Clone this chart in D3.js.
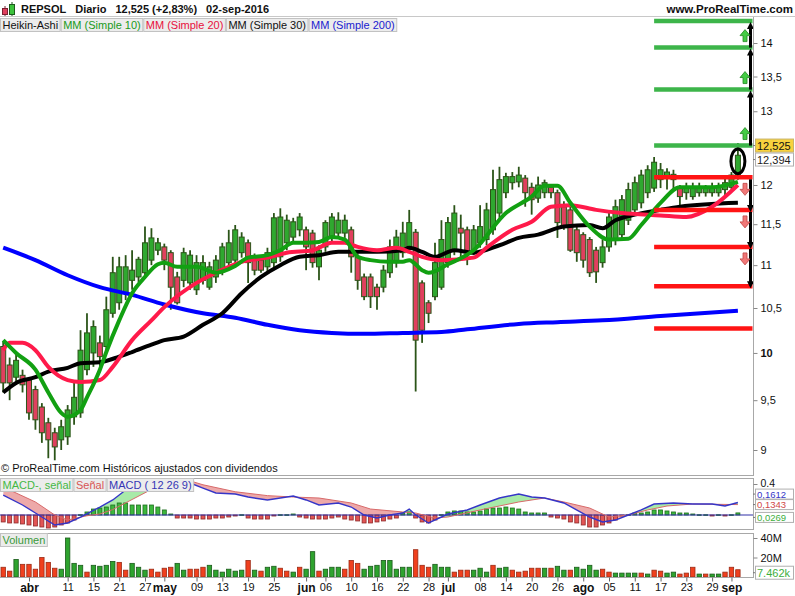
<!DOCTYPE html>
<html><head><meta charset="utf-8">
<script src="https://cdn.jsdelivr.net/npm/d3@7/dist/d3.min.js"></script>
<style>
html,body{margin:0;padding:0;background:#fff;}
svg{display:block;}
text{font-family:"Liberation Sans",Arial,sans-serif;}
</style></head><body>
<svg id="chart" width="795" height="596"></svg>
<script>
// ---------------- DATA ----------------
const dates = ["03-24","03-29","03-30","03-31",
"04-01","04-04","04-05","04-06","04-07","04-08","04-11","04-12","04-13","04-14","04-15","04-18","04-19","04-20","04-21","04-22","04-25","04-26","04-27","04-28","04-29",
"05-02","05-03","05-04","05-05","05-06","05-09","05-10","05-11","05-12","05-13","05-16","05-17","05-18","05-19","05-20","05-23","05-24","05-25","05-26","05-27","05-30","05-31",
"06-01","06-02","06-03","06-06","06-07","06-08","06-09","06-10","06-13","06-14","06-15","06-16","06-17","06-20","06-21","06-22","06-23","06-24","06-27","06-28","06-29","06-30",
"07-01","07-04","07-05","07-06","07-07","07-08","07-11","07-12","07-13","07-14","07-15","07-18","07-19","07-20","07-21","07-22","07-25","07-26","07-27","07-28","07-29",
"08-01","08-02","08-03","08-04","08-05","08-08","08-09","08-10","08-11","08-12","08-15","08-16","08-17","08-18","08-19","08-22","08-23","08-24","08-25","08-26","08-29","08-30","08-31",
"09-01","09-02"];

// Heikin-Ashi candles
const haOpen = [10.07,9.87,9.74,9.76,9.71,9.61,9.43,9.27,9.17,9.10,
9.13,9.33,9.37,9.82,10.00,10.11,10.07,10.44,10.56,10.67,
10.82,10.86,10.91,11.06,11.18,11.22,11.15,10.86,10.82,10.79,
10.71,10.82,10.74,10.86,10.94,11.03,11.06,11.15,11.27,11.10,
11.06,10.98,11.03,11.10,11.27,11.34,11.43,11.43,11.39,10.98,
11.22,11.34,11.39,11.39,11.43,11.10,10.86,10.86,10.74,10.74,
10.91,11.03,11.15,11.22,11.40,10.79,10.56,10.63,10.74,11.03,
11.18,11.45,11.43,11.18,11.27,11.31,11.43,11.64,11.90,12.03,
12.04,12.09,11.97,11.83,11.90,11.97,11.90,11.72,11.68,11.43,
11.37,11.31,11.18,11.03,11.22,11.31,11.37,11.55,11.68,11.77,
11.90,11.96,12.07,12.09,12.07,11.96,11.90,11.85,11.90,11.90,
11.90,11.90,11.94,11.97,12.11];
const haHigh = [10.12,9.95,9.98,9.82,9.74,9.65,9.47,9.32,9.22,9.30,
9.45,9.68,10.25,10.44,10.36,10.19,10.63,11.10,11.10,11.12,
11.18,11.10,11.47,11.45,11.33,11.26,11.18,10.92,11.21,11.18,
11.12,11.12,11.04,11.12,11.27,11.43,11.49,11.40,11.31,11.14,
11.10,11.21,11.64,11.70,11.62,11.58,11.64,11.47,11.43,11.24,
11.55,11.64,11.65,11.62,11.47,11.14,10.90,10.90,10.78,11.00,
11.31,11.43,11.53,11.68,11.44,10.82,10.59,11.27,11.55,11.59,
11.74,11.62,11.47,11.49,11.74,11.77,12.20,12.24,12.16,12.17,
12.24,12.13,12.03,12.11,12.07,12.01,11.94,11.79,11.72,11.47,
11.40,11.34,11.22,11.31,11.68,11.81,11.87,12.03,12.11,12.20,
12.26,12.37,12.29,12.22,12.20,12.00,12.03,12.03,12.03,12.00,
12.03,12.03,12.09,12.17,12.56];
const haLow = [9.58,9.50,9.69,9.58,9.30,9.20,9.07,8.92,8.90,9.00,
9.05,9.25,9.32,9.76,9.85,9.86,10.01,10.39,10.48,10.59,
10.71,10.80,10.85,11.00,11.12,10.94,10.48,10.54,10.74,10.71,
10.65,10.77,10.71,10.79,10.88,10.97,11.00,11.09,10.79,10.88,
10.91,10.92,10.97,11.04,11.18,11.28,11.35,10.94,10.97,10.82,
11.16,11.28,11.33,11.33,10.91,10.71,10.59,10.50,10.48,10.68,
10.85,10.97,11.09,11.16,9.59,10.11,10.33,10.59,10.71,10.97,
11.12,11.06,11.00,11.12,11.21,11.24,11.37,11.58,11.83,11.94,
11.97,11.72,11.62,11.77,11.83,11.83,11.33,11.43,11.16,11.04,
10.97,10.86,10.79,10.97,11.16,11.24,11.31,11.49,11.62,11.70,
11.83,11.91,11.96,11.94,11.94,11.74,11.81,11.81,11.85,11.85,
11.85,11.85,11.87,11.94,12.07];
const haClose = [9.68,9.68,9.92,9.66,9.37,9.30,9.17,9.10,9.03,9.23,
9.40,9.53,10.03,10.22,10.29,9.96,10.48,10.91,10.98,10.98,
10.94,11.07,11.27,11.33,11.27,11.06,10.74,10.56,11.15,11.12,
11.03,11.03,10.98,11.06,11.22,11.27,11.43,11.34,11.03,10.94,
10.94,11.15,11.58,11.59,11.55,11.53,11.59,11.22,11.03,11.18,
11.52,11.59,11.55,11.55,11.10,10.82,10.63,10.63,10.63,10.94,
11.22,11.34,11.39,11.52,10.14,10.25,10.44,11.03,11.31,11.52,
11.64,11.39,11.15,11.43,11.47,11.68,11.94,12.07,12.11,12.11,
12.13,11.90,11.81,12.00,12.03,11.90,11.52,11.47,11.18,11.15,
11.06,10.91,10.92,11.22,11.59,11.72,11.81,11.94,12.03,12.13,
12.20,12.30,12.20,12.17,12.14,11.85,11.97,11.97,11.97,11.96,
11.97,11.97,12.03,12.13,12.394];

// Moving averages: [bar index, value]
const ma10 = [[0,10.14],[2,10.00],[5,9.82],[7,9.58],[9,9.37],[10,9.33],[12,9.40],[13,9.53],[15,9.82],[16,10.01],[18,10.36],[20,10.67],[22,10.86],[24,11.01],[25,11.03],[27,10.98],[30,10.98],[33,10.91],[36,10.99],[38,11.09],[41,11.12],[43,11.18],[45,11.27],[47,11.27],[49,11.28],[51,11.34],[53,11.31],[55,11.10],[57,11.06],[60,11.04],[62,11.04],[63,11.06],[65,10.94],[66,10.91],[69,11.01],[73,11.18],[78,11.64],[82,11.85],[84,11.99],[86,11.99],[88,11.77],[91,11.47],[94,11.31],[97,11.32],[99,11.49],[102,11.77],[105,11.97],[110,11.97],[114,12.04]];
const ma20 = [[0,10.03],[1,10.11],[3,10.11],[5,10.03],[7,9.85],[10,9.71],[12,9.69],[15,9.71],[17,9.85],[20,10.14],[23,10.36],[25,10.51],[30,10.79],[33,10.91],[37,11.04],[41,11.09],[44,11.15],[48,11.18],[51,11.27],[53,11.27],[55,11.22],[58,11.18],[61,11.21],[63,11.16],[65,11.10],[68,11.06],[73,11.09],[75,11.21],[79,11.43],[82,11.53],[85,11.72],[88,11.74],[92,11.68],[96,11.64],[102,11.61],[106,11.59],[110,11.72],[114,12.00]];
const ma30 = [[0,9.58],[2,9.68],[5,9.74],[7,9.80],[10,9.84],[12,9.89],[15,9.90],[18,9.96],[20,10.01],[23,10.09],[25,10.14],[28,10.18],[31,10.31],[34,10.44],[37,10.67],[40,10.86],[43,11.00],[46,11.10],[49,11.12],[52,11.16],[55,11.16],[58,11.16],[62,11.18],[63,11.21],[65,11.16],[67,11.10],[70,11.18],[73,11.15],[77,11.24],[80,11.33],[83,11.37],[87,11.47],[91,11.49],[93,11.45],[95,11.55],[98,11.62],[102,11.68],[105,11.72],[114,11.77]];
const ma200 = [[0,11.21],[5,11.06],[10,10.88],[15,10.74],[20,10.65],[25,10.54],[31,10.44],[36,10.39],[41,10.31],[46,10.25],[51,10.22],[56,10.21],[62,10.22],[68,10.23],[72,10.26],[80,10.32],[86,10.34],[93,10.36],[102,10.41],[114,10.47]];

// Target levels drawn from 18-aug
const levelStartIdx = 101;
const upLevels = [12.525, 13.31, 13.93, 14.34];
const downLevels = [12.10, 11.68, 11.22, 10.75, 10.27];
const downArrowCount = 3;

// MACD (12 26 9): [bar index, value]
const macdLine = [[0,0.258],[3,0.129],[5,0.026],[8,-0.129],[10,-0.103],[12,-0.026],[15,0.103],[17,0.194],[19,0.323],[20,0.413],[23,0.477],[26,0.477],[29,0.413],[31,0.348],[33,0.284],[36,0.271],[38,0.232],[41,0.194],[45,0.245],[47,0.194],[49,0.129],[52,0.155],[54,0.103],[56,0],[58,-0.039],[60,0],[62,0.026],[63,0.077],[64,0],[66,-0.103],[69,0.013],[72,0.065],[74,0.129],[77,0.219],[80,0.271],[82,0.232],[84,0.219],[87,0.155],[91,-0.026],[93,-0.090],[95,-0.065],[97,0],[99,0.065],[101,0.142],[104,0.155],[107,0.142],[110,0.142],[112,0.116],[114,0.1612]];
const signalLine = [[0,0.361],[5,0.168],[8,0.0],[10,-0.065],[13,-0.01],[15,0.013],[17,0.07],[20,0.2],[23,0.33],[26,0.44],[29,0.44],[31,0.39],[36,0.30],[41,0.25],[45,0.232],[49,0.219],[54,0.155],[57,0.077],[62,0.039],[64,0.026],[67,-0.039],[69,-0.026],[74,0.065],[80,0.168],[84,0.219],[87,0.168],[91,0.090],[94,-0.026],[97,0],[100,0.065],[103,0.116],[107,0.142],[114,0.1343]];
const macdHist = [-0.090,-0.103,-0.103,-0.116,-0.129,-0.142,-0.155,-0.168,-0.155,-0.129,
-0.103,-0.065,0.004,0.039,0.077,0.090,0.103,0.129,0.155,0.155,
0.129,0.129,0.129,0.129,0.103,0.065,0.013,-0.039,-0.039,-0.039,
-0.052,-0.052,-0.052,-0.039,-0.039,-0.026,-0.013,0.004,-0.039,-0.052,
-0.052,-0.052,-0.013,0.004,0.004,0.013,-0.026,-0.039,-0.052,-0.052,
-0.052,-0.039,-0.026,-0.052,-0.065,-0.077,-0.103,-0.103,-0.090,-0.077,
-0.052,-0.039,0.026,0.039,-0.039,-0.090,-0.103,-0.065,0.004,0.039,
0.052,0.052,0.039,0.039,0.052,0.077,0.090,0.090,0.103,0.090,
0.077,0.039,0.026,0.026,0.026,-0.026,-0.039,-0.052,-0.090,-0.103,
-0.129,-0.155,-0.155,-0.129,-0.103,-0.065,-0.013,0.004,0.026,0.026,
0.039,0.065,0.065,0.052,0.039,0.026,0.026,0.013,0.004,0.004,
-0.013,0.004,-0.013,0.004,0.0269];

// Volume (millions) and direction (1 = up / green)
const volume = [10,6,18,13,13,8,20,15,9,8,
40,14,12,5,12,11,12,16,15,7,
14,10,7,8,5,9,10,14,7,8,
8,10,12,7,5,8,6,7,17,7,
6,10,11,9,6,5,10,8,26,6,
8,10,10,8,17,14,8,11,12,17,
17,8,10,10,28,12,10,13,10,10,
5,7,7,7,9,5,12,9,10,7,
5,6,9,9,9,9,11,7,7,10,
8,12,7,8,5,4,4,4,4,4,
3,7,6,4,5,3,4,10,3,3,
3,3,5,10,7.462];
const volumeUp = "0010000001111011110011100001100011111101011001011011100011111111000111000111011000001011011110011110100110001011";

const tickDates = ["04-01","04-11","04-15","04-21","04-27","05-02","05-09","05-13","05-19","05-25","06-01","06-06","06-10","06-16","06-22","06-28","07-01","07-08","07-14","07-20","07-26","08-01","08-05","08-11","08-17","08-23","08-29","09-01"];
const tickLabels = ["abr","11","15","21","27","may","09","13","19","25","jun","06","10","16","22","28","jul","08","14","20","26","ago","05","11","17","23","29","sep"];
const priceTicks = [14,13.5,13,12,11.5,11,10.5,10,9.5,9];
const volumeTicks = [20,40];
const macdTicks = [0.4];

const lastPrice = 12.525, lastChange = 2.83, lastDate = "02-sep-2016";

// ---------------- LAYOUT ----------------
const svg = d3.select("#chart");
const PR = 753;
const mainP = {top:17, bottom:475};
const macdP = {top:478, bottom:529};
const volP = {top:533, bottom:577};
const FONT = '"Liberation Sans",Arial,sans-serif';

const x = d3.scalePoint().domain(dates).range([3.2, 737.9]);
const y = d3.scaleLog().domain([9,14]).range([450,43]);
const ym = d3.scaleLinear().domain([0,0.4]).range([515,484]);
const yv = d3.scaleLinear().domain([0,40]).range([577,538]);
const xi = i => x(dates[i]);
const comma = (v,d) => v.toFixed(d).replace(".",",");

const defs = svg.append("defs");
function clip(id, x0, y0, w, h){ defs.append("clipPath").attr("id",id).append("rect").attr("x",x0).attr("y",y0).attr("width",w).attr("height",h); }
clip("clipMain",0,mainP.top,PR,mainP.bottom-mainP.top);
clip("clipMacd",0,macdP.top,PR,macdP.bottom-macdP.top);
clip("clipVol",0,volP.top,PR,volP.bottom-volP.top);

svg.append("rect").attr("width",795).attr("height",596).attr("fill","#fff");

// ---------------- HEADER ----------------
svg.append("line").attr("x1",0).attr("x2",795).attr("y1",16.5).attr("y2",16.5).attr("stroke","#c8c8c8");
// small icon
svg.append("line").attr("x1",5).attr("x2",5).attr("y1",6).attr("y2",16).attr("stroke","#7a2030");
svg.append("rect").attr("x",2.5).attr("y",8.5).attr("width",5).attr("height",6).attr("fill","#e0405e").attr("stroke","#7a2030");
svg.append("line").attr("x1",12).attr("x2",12).attr("y1",2).attr("y2",16).attr("stroke","#1d5a1d");
svg.append("rect").attr("x",9.5).attr("y",4.5).attr("width",5).attr("height",10).attr("fill","#3cc33c").attr("stroke","#1d5a1d");

const titleParts = ["REPSOL","Diario", comma(lastPrice,3)+" (+"+comma(lastChange,2)+"%)", lastDate];
let tx = 21;
titleParts.forEach(p=>{
  const t = svg.append("text").attr("x",tx).attr("y",13).attr("font-size",11).attr("font-weight","bold").attr("fill","#111").text(p);
  tx += t.node().getComputedTextLength()+9;
});
svg.append("text").attr("x",793).attr("y",13).attr("text-anchor","end").attr("font-size",11.5).attr("font-weight","bold").attr("fill","#111").text("www.ProRealTime.com");

// ---------------- MAIN PANEL ----------------
const gMain = svg.append("g").attr("clip-path","url(#clipMain)");
const candles = dates.map((d,i)=>({d, o:haOpen[i], h:haHigh[i], l:haLow[i], c:haClose[i]}));
gMain.append("g").selectAll("line").data(candles).join("line")
  .attr("x1",d=>x(d.d)).attr("x2",d=>x(d.d)).attr("y1",d=>y(d.h)).attr("y2",d=>y(d.l))
  .attr("stroke","#2b5418").attr("stroke-width",1.8);
gMain.append("g").selectAll("rect").data(candles).join("rect")
  .attr("x",d=>x(d.d)-2.5).attr("width",5)
  .attr("y",d=>y(Math.max(d.o,d.c))).attr("height",d=>Math.max(1,Math.abs(y(d.o)-y(d.c))))
  .attr("fill",d=>d.c>=d.o?"#2fa82f":"#e0405e").attr("stroke","#2b5418").attr("stroke-width",1);

const maLine = d3.line().x(d=>xi(d[0])).y(d=>y(d[1])).curve(d3.curveMonotoneX);
[[ma200,"#0000ff"],[ma30,"#000000"],[ma20,"#ff1a4a"],[ma10,"#12a012"]].forEach(([s,c])=>{
  gMain.append("path").attr("d",maLine(s)).attr("fill","none").attr("stroke",c).attr("stroke-width",4).attr("stroke-linejoin","round");
});

// levels
const lvX0 = xi(levelStartIdx), lvX1 = PR-0.5;
upLevels.forEach(v=>gMain.append("line").attr("x1",lvX0).attr("x2",lvX1).attr("y1",y(v)).attr("y2",y(v)).attr("stroke","#3db54a").attr("stroke-width",4.5));
downLevels.forEach(v=>gMain.append("line").attr("x1",lvX0).attr("x2",lvX1).attr("y1",y(v)).attr("y2",y(v)).attr("stroke","#ff1414").attr("stroke-width",4.5));

function vArrow(xc, y0, y1){
  const dir = Math.sign(y1-y0);
  gMain.append("line").attr("x1",xc).attr("x2",xc).attr("y1",y0).attr("y2",y1-dir*6).attr("stroke","#000").attr("stroke-width",3);
  gMain.append("path").attr("d",`M${xc-3.5},${y1-dir*7}L${xc+3.5},${y1-dir*7}L${xc},${y1}Z`).attr("fill","#000");
}
function blockArrow(cx, cy, up, fill, stroke){
  const s = up?1:-1;
  const d = `M${cx-5},${cy}L${cx},${cy-6*s}L${cx+5},${cy}L${cx+2},${cy}L${cx+2},${cy+6*s}L${cx-2},${cy+6*s}L${cx-2},${cy}Z`;
  gMain.append("path").attr("d",d).attr("fill",fill).attr("stroke",stroke).attr("stroke-width",0.8);
}
for(let k=0;k<upLevels.length-1;k++){
  vArrow(750.5, y(upLevels[k]), y(upLevels[k+1])+1);
  blockArrow(745, y(upLevels[k])-12, true, "#44cc44", "#228822");
}
for(let k=0;k<downArrowCount;k++){
  vArrow(750.5, y(downLevels[k])+2, y(downLevels[k+1])+2);
  blockArrow(745, y(downLevels[k])+12, false, "#f07878", "#c04848");
}
// ellipse around last candle
const lastI = dates.length-1;
gMain.append("ellipse").attr("cx",xi(lastI)).attr("cy",(y(haHigh[lastI])+y(haLow[lastI]))/2)
  .attr("rx",7).attr("ry",(y(haLow[lastI])-y(haHigh[lastI]))/2-6)
  .attr("fill","none").attr("stroke","#000").attr("stroke-width",3);

// borders
function panelBorder(p){
  svg.append("line").attr("x1",0).attr("x2",PR).attr("y1",p.bottom+0.5).attr("y2",p.bottom+0.5).attr("stroke","#a8a8a8");
  svg.append("line").attr("x1",PR+0.5).attr("x2",PR+0.5).attr("y1",p.top).attr("y2",p.bottom+1).attr("stroke","#a8a8a8");
}
panelBorder(mainP);
svg.append("line").attr("x1",0).attr("x2",PR).attr("y1",macdP.top+0.5).attr("y2",macdP.top+0.5).attr("stroke","#a8a8a8");
panelBorder(macdP);
svg.append("line").attr("x1",0).attr("x2",PR).attr("y1",volP.top+0.5).attr("y2",volP.top+0.5).attr("stroke","#a8a8a8");
panelBorder(volP);

// price axis
const axP = svg.append("g").attr("transform",`translate(${PR+0.5},0)`)
  .call(d3.axisRight(y).tickValues(priceTicks).tickSize(4).tickPadding(3)
    .tickFormat(d=>Number.isInteger(d)?String(d):comma(d,1)));
axP.select(".domain").remove();
axP.selectAll("line").attr("stroke","#888");
axP.selectAll("text").attr("font-size",11).attr("font-family",FONT).attr("fill","#111")
  .attr("font-weight",d=>d===10?"bold":"normal");

// value labels on the right axis
function valueBox(cy, label, fill, color, stroke, h, fs){
  h = h || 13; fs = fs || 11;
  svg.append("line").attr("x1",PR).attr("x2",PR+3).attr("y1",cy).attr("y2",cy).attr("stroke","#777");
  svg.append("rect").attr("x",755.5).attr("y",cy-h/2).attr("width",38).attr("height",h).attr("fill",fill).attr("stroke",stroke);
  svg.append("text").attr("x",757).attr("y",cy+fs*0.36).attr("font-size",fs).attr("fill",color).text(label);
}
const yClose = y(lastPrice);
valueBox(yClose, comma(lastPrice,3), "#f7d23e", "#111", "#c9b46a");
valueBox(Math.max(y(haClose[lastI]), yClose+14), comma(haClose[lastI],3), "#fff", "#222", "#b0b0b0");

// legend rows
function legendRow(items, x0, yTop, h){
  let cx = x0;
  items.forEach(it=>{
    const r = svg.append("rect").attr("x",cx).attr("y",yTop).attr("height",h).attr("fill","#ececec").attr("stroke","#c2c2c2");
    const t = svg.append("text").attr("x",cx+2).attr("y",yTop+h-2.5).attr("font-size",11).attr("fill",it.color).text(it.text);
    const w = t.node().getComputedTextLength()+4;
    r.attr("width",w);
    cx += w+1;
  });
}
legendRow([{text:"Heikin-Ashi",color:"#111"},{text:"MM (Simple 10)",color:"#1a9a1a"},{text:"MM (Simple 20)",color:"#e8103c"},{text:"MM (Simple 30)",color:"#111"},{text:"MM (Simple 200)",color:"#1a1ad0"}],0.5,18.5,13);

svg.append("text").attr("x",1).attr("y",472).attr("font-size",11).attr("fill","#111").text("© ProRealTime.com  Históricos ajustados con dividendos");

// ---------------- MACD PANEL ----------------
const gM = svg.append("g").attr("clip-path","url(#clipMacd)");
const aBelow = d3.area().x(d=>xi(d[0])).y0(macdP.bottom).y1(d=>ym(d[1]));
const aAbove = d3.area().x(d=>xi(d[0])).y0(macdP.top).y1(d=>ym(d[1]));
defs.append("clipPath").attr("id","abvSig").append("path").attr("d",aAbove(signalLine));
defs.append("clipPath").attr("id","abvMacd").append("path").attr("d",aAbove(macdLine));
gM.append("g").attr("clip-path","url(#abvSig)").append("path").attr("d",aBelow(macdLine)).attr("fill","#a8eaa8");
gM.append("g").attr("clip-path","url(#abvMacd)").append("path").attr("d",aBelow(signalLine)).attr("fill","#eda9a9");
gM.append("g").selectAll("rect").data(macdHist).join("rect")
  .attr("x",(v,i)=>xi(i)-2).attr("width",4)
  .attr("y",v=>Math.min(ym(v),ym(0))).attr("height",v=>Math.max(0.8,Math.abs(ym(v)-ym(0))))
  .attr("fill",v=>v>=0?"#3cb83c":"#e25555").attr("stroke",v=>v>=0?"#1e6e1e":"#8e2a2a").attr("stroke-width",0.8);
gM.append("line").attr("x1",0).attr("x2",PR).attr("y1",ym(0)).attr("y2",ym(0)).attr("stroke","#3030a8").attr("stroke-width",1.2);
const mL = d3.line().x(d=>xi(d[0])).y(d=>ym(d[1]));
gM.append("path").attr("d",mL(signalLine)).attr("fill","none").attr("stroke","#d86a6a").attr("stroke-width",1);
gM.append("path").attr("d",mL(macdLine)).attr("fill","none").attr("stroke","#3535c8").attr("stroke-width",1.4);
legendRow([{text:"MACD-, señal",color:"#44b844"},{text:"Señal",color:"#d85555"},{text:"MACD ( 12 26 9)",color:"#3535b5"}],0.5,478.5,13);

const axM = svg.append("g").attr("transform",`translate(${PR+0.5},0)`)
  .call(d3.axisRight(ym).tickValues(macdTicks).tickSize(4).tickPadding(3).tickFormat(d=>String(d)));
axM.select(".domain").remove();
axM.selectAll("line").attr("stroke","#888");
axM.selectAll("text").attr("font-size",10.5).attr("font-family",FONT).attr("fill","#111").attr("dy","0.2em");
const hv = macdHist[lastI], mv = macdLine[macdLine.length-1][1], sv = signalLine[signalLine.length-1][1];
// stacked value labels (spread upward from the histogram value so they do not collide)
const hY = ym(hv)+4.5, sY = Math.min(ym(sv), hY-10.5), mY = Math.min(ym(mv), sY-10.5);
valueBox(mY, comma(mv,4), "#fff", "#3535c8", "#b0b0b0", 10, 9.5);
valueBox(sY, comma(sv,4), "#fff", "#d04848", "#b0b0b0", 10, 9.5);
valueBox(hY, comma(hv,4), "#fff", "#3cae3c", "#b0b0b0", 10, 9.5);

// ---------------- VOLUME PANEL ----------------
const gV = svg.append("g").attr("clip-path","url(#clipVol)");
gV.selectAll("rect").data(volume).join("rect")
  .attr("x",(v,i)=>xi(i)-2.2).attr("width",4.4)
  .attr("y",v=>yv(v)).attr("height",v=>yv(0)-yv(v))
  .attr("fill",(v,i)=>volumeUp[i]==="1"?"#2ea32e":"#f0401e")
  .attr("stroke",(v,i)=>volumeUp[i]==="1"?"#1a5a1a":"#9a2a14").attr("stroke-width",0.8);
legendRow([{text:"Volumen",color:"#3a9a3a"}],0.5,533.5,13);
const axV = svg.append("g").attr("transform",`translate(${PR+0.5},0)`)
  .call(d3.axisRight(yv).tickValues(volumeTicks).tickSize(4).tickPadding(3).tickFormat(d=>d+"M"));
axV.select(".domain").remove();
axV.selectAll("line").attr("stroke","#888");
axV.selectAll("text").attr("font-size",11).attr("font-family",FONT).attr("fill","#111");
valueBox(yv(volume[lastI])+3, volume[lastI].toFixed(3)+"k", "#fff", "#3cae3c", "#b0b0b0");

// ---------------- X AXIS ----------------
const axX = svg.append("g").attr("transform",`translate(0,${volP.bottom+0.5})`)
  .call(d3.axisBottom(x).tickValues(tickDates).tickSize(4).tickPadding(2).tickFormat((d,i)=>tickLabels[i]));
axX.select(".domain").remove();
axX.selectAll("line").attr("stroke","#666");
axX.selectAll("text").attr("font-family",FONT).attr("fill","#111")
  .attr("font-size",(d,i)=>/^[a-z]/.test(tickLabels[i])?12:11)
  .attr("font-weight",(d,i)=>/^[a-z]/.test(tickLabels[i])?"bold":"normal");
</script></body></html>
